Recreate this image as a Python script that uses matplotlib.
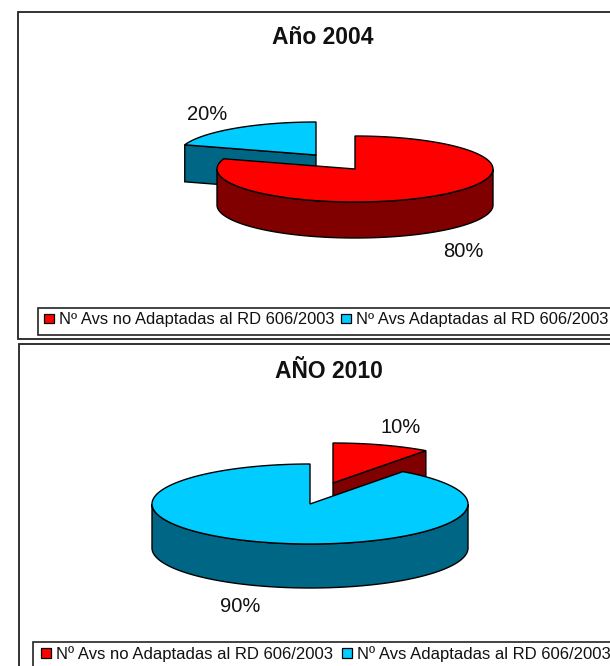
import numpy as np
import matplotlib
matplotlib.use("Agg")
import matplotlib.pyplot as plt
from matplotlib.patches import Polygon, Rectangle

plt.rcParams['font.family'] = ['Liberation Sans', 'DejaVu Sans']

W, H = 610, 666
categories = ["Nº Avs no Adaptadas al RD 606/2003", "Nº Avs Adaptadas al RD 606/2003"]
titles = ["Año 2004", "AÑO 2010"]
shares_2004 = [80, 20]
shares_2010 = [10, 90]
top_colors = ["#ff0000", "#00ccff"]
side_colors = ["#800000", "#006685"]


def rim(cx, cy, rx, ry, a0, a1, n=160):
    """Points on the ellipse; angles are clockwise from 12 o'clock, in degrees."""
    t = np.radians(np.linspace(a0, a1, n))
    return np.column_stack([cx + rx * np.sin(t), cy - ry * np.cos(t)])


def cut_face(ax, centre, rx, ry, depth, ang, side, z):
    cx, cy = centre
    e = rim(cx, cy, rx, ry, ang, ang, 1)[0]
    pts = [(cx, cy), tuple(e), (e[0], e[1] + depth), (cx, cy + depth)]
    ax.add_patch(Polygon(pts, closed=True, fc=side, ec="black", lw=1.0, zorder=z))


def slice3d(ax, centre, rx, ry, depth, a0, a1, top, side, z):
    cx, cy = centre
    # a cut face shows only when it turns towards the viewer
    if 180 < a0 % 360 < 360:
        cut_face(ax, centre, rx, ry, depth, a0, side, z)
    if 0 < a1 % 360 < 180:
        cut_face(ax, centre, rx, ry, depth, a1, side, z)
    # outer wall: only the front half of the ellipse shows
    lo, hi = max(a0, 90), min(a1, 270)
    if hi > lo:
        front = rim(cx, cy, rx, ry, lo, hi)
        wall = np.vstack([front, front[::-1] + [0, depth]])
        ax.add_patch(Polygon(wall, closed=True, fc=side, ec="black", lw=1.0, zorder=z + 0.1))
    arc = rim(cx, cy, rx, ry, a0, a1)
    ax.add_patch(Polygon(np.vstack([[cx, cy], arc]), closed=True, fc=top, ec="black", lw=1.0, zorder=z + 0.2))


def draw_chart(y0, y1, frame, title, title_xy, shares, start, offsets, order, radii, labels,
               legend_box, legend_pos, legend_size, legend_gap):
    ax = fig.add_axes([0, 1 - y1 / H, 1, (y1 - y0) / H])
    ax.set_xlim(0, W)
    ax.set_ylim(y1, y0)
    ax.axis("off")
    ax.add_patch(Rectangle((frame[0], frame[1]), frame[2] - frame[0], frame[3] - frame[1],
                           fc="white", ec="#222222", lw=1.3, zorder=0))
    ax.set_title(title, x=title_xy[0] / W, y=(y1 - title_xy[1]) / (y1 - y0), fontsize=16.5,
                 fontweight="bold", va="center", pad=0, color="#111111")
    rx, ry, depth = radii
    edges = start + np.cumsum([0] + list(shares)) * 3.6
    for z, i in enumerate(order):
        slice3d(ax, offsets[i], rx, ry, depth[i], edges[i], edges[i + 1], top_colors[i], side_colors[i], 2 + z)
    for share, (lx, ly) in zip(shares, labels):
        ax.text(lx, ly, f"{share}%", ha="center", va="center", fontsize=14.5, color="#111111", zorder=10)
    ax.add_patch(Rectangle((legend_box[0], legend_box[1]), legend_box[2] - legend_box[0],
                           legend_box[3] - legend_box[1], fc="white", ec="#222222", lw=1.2, zorder=11))
    handles = [Rectangle((0, 0), 1, 1, fc=c, ec="black", lw=0.9) for c in top_colors]
    leg = ax.legend(handles, categories, ncol=2, loc="center left", frameon=False, fontsize=legend_size,
                    labelcolor="#111111",
                    bbox_to_anchor=(legend_pos[0], legend_pos[1]), bbox_transform=ax.transData,
                    handlelength=0.6, handleheight=0.5, handletextpad=0.3, columnspacing=legend_gap,
                    borderpad=0, borderaxespad=0)
    leg.set_zorder(12)


fig = plt.figure(figsize=(W / 100, H / 100), dpi=100, facecolor="white")

draw_chart(0, 341, (18, 12, 640, 339), titles[0], (323, 38), shares_2004, 0,
           [(355, 169), (316, 155)], [1, 0], (138, 33, [36, 37]),
           [(463, 252), (207, 115)], (38, 308, 640, 335), (44, 320), 11.85, 0.42)
draw_chart(341, 666, (19, 344, 640, 690), titles[1], (329, 371), shares_2010, 0,
           [(333, 483), (310, 504)], [0, 1], (158, 40, [44, 44]),
           [(401, 428), (240, 607)], (33, 642, 640, 690), (41, 654), 11.95, 0.55)

fig.savefig("out.png", dpi=100, facecolor="white")
